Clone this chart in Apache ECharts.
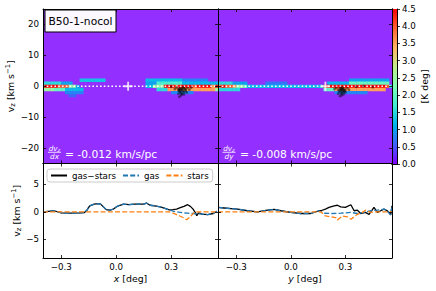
<!DOCTYPE html>
<html><head><meta charset="utf-8">
<script src="https://cdn.jsdelivr.net/npm/echarts@6/dist/echarts.min.js"></script>
<style>html,body{margin:0;padding:0;background:#fff}#c{width:436px;height:291px}</style>
</head><body><div id="c"></div>
<script>
// ================= DATA =================
const xTicks = [-0.3, 0.0, 0.3];
const vTicksTop = [-20, -10, 0, 10, 20];
const vTicksBottom = [-5, 0, 5];
const cbarTicks = [0, 0.5, 1.0, 1.5, 2.0, 2.5, 3.0, 3.5, 4.0, 4.5];
const xRange = [-0.4, 0.556];
const vRangeTop = [-25, 25];
const vRangeBottom = [-8.4, 8.8];
const cbarRange = [0, 4.5];

// position-velocity map bins (deg, km/s)
const binX = [-0.39,-0.37,-0.35,-0.33,-0.31,-0.29,-0.27,-0.25,-0.23,-0.21,-0.19,-0.17,-0.15,-0.13,-0.11,-0.09,
              -0.07,-0.05,-0.03,-0.01,0.01,0.03,0.05,0.07,0.09,0.11,0.13,0.15,0.17,0.19,0.21,0.23,
              0.25,0.27,0.29,0.31,0.33,0.35,0.37,0.39,0.41,0.43,0.45,0.47,0.49,0.51,0.53,0.55];
const binV = [2, 1, 0, -1, -2, -3];
const binDX = 0.02, binDV = 1.0;

// brightness temperature [K deg], rows follow binV, columns follow binX
const pvLeft = [
  [0,0,0,0,0,0,0,0, 0,0,1.3,1.3,1.3,1.3,1.3,1.3, 1.3,0,0,0,0,0,0,0, 0,0,0,0,1.2,1.2,1.2,1.2, 1.2,1.2,1.2,1.2,1.2,1.2,0.8,0.8, 0.8,0.8,0.8,0.8,0.8,0,0,0],
  [1.5,1.5,1.5,1.5,1.5,1,1,1, 0,0,0,0,0,0,0,0, 0,0,0,0,0,0,0,0, 0,0,0,0,1,1,1,1.8, 1.8,1.8,1.8,1.8,1.8,1.8,1.2,1.2, 1.2,1.2,1.2,1.2,1.2,1.2,1.2,1.2],
  [4.5,4.5,4.5,4.5,4,4,4,2.5, 2.5,1,0,0,0,0,0,0, 0,0,0,0,0,0,0,0, 0,0,0,0,1.2,1.2,2.5,2.5, 2.5,4.5,4.5,4.5,4,4.5,4.5,4.5, 4.5,4,4.5,4.5,4.5,4.5,3.5,4.5],
  [2.5,2.5,2.5,2,2,2,1.2,1.2, 1.2,1.2,1.2,0,0,0,0,0, 0,0,0,0,0,0,0,0, 0,0,0,0,0,0,0,1.5, 1.5,1.5,3.5,3.5,3.5,3.5,3.5,3.5, 3.5,3.5,3.5,3.5,3.5,3.5,3.5,2.5],
  [0,0,0,0,0,0,0.8,0.8, 0.8,0.8,0.8,0,0,0,0,0, 0,0,0,0,0,0,0,0, 0,0,0,0,0,0,0,0, 0,0,0,0.8,0.8,0.8,0.8,0.8, 0.8,0,0,0,0,0,0,0],
  [0,0,0,0,0,0,0,0.6, 0.6,0,0,0,0,0,0,0, 0,0,0,0,0,0,0,0, 0,0,0,0,0,0,0,0, 0,0,0,0,0,0,0,0, 0,0,0,0,0,0,0,0]
];
const pvRight = [
  [0,0,0,0,0,0,0,0, 0,0,0,0,0,0,0,0, 0,0,0,0,0,0,0,0, 0,0,0,0,0,0,0,0, 0,0,0,0,1,1,1,1, 1,1,1,1,1,1,1,0],
  [1.5,1.5,1.5,1.5,1,1,1,1, 0,0,0,0,0,0.7,0.7,0.7, 0.7,0.7,0.7,0,0,0,0,0, 0,0,0,0,0,0,1.2,1.2, 1.2,1.2,1.2,1.2,2,2,2,2, 2,2,2,2,2,2,2,0],
  [4,4.5,4,4,3.5,2.5,2.5,2, 1.2,1.2,1.2,1.2,1.2,1.2,1.2,1.2, 1.2,1.2,1.2,1.2,1.2,1.2,1.2,1.2, 1.2,1.2,1.2,1.2,1.5,4.5,4.5,4.5, 4.5,4.5,4.5,4.5,4.5,4.5,4.5,4.5, 4.5,4.5,4.5,4.5,4.5,4.5,4,1.5],
  [1.5,1.5,1.5,1.5,1.5,1.5,0,0, 0,0,0,0,0,0,0,0, 0,0,0,0,0,0,0,0, 0,0,0,0,0,2,2,2, 3.5,3.5,3.5,3.5,3.5,3.5,3.5,3.5, 3.5,3.5,3.5,3.5,3.5,3.5,0,0],
  [0,0,0,0,0,0,0,0, 0,0,0,0,0,0,0,0, 0,0,0,0,0,0,0,0, 0,0,0,0,0,0,0,0, 0.8,0.8,0.8,0.8,0.8,0.8,0.8,0.8, 0.8,0,0,0,0,0,0,0],
  [0,0,0,0,0,0,0,0, 0,0,0,0,0,0,0,0, 0,0,0,0,0,0,0,0, 0,0,0,0,0,0,0,0, 0,0,0,0,0,0,0,0, 0,0,0,0,0,0,0,0]
];

// star particles [deg, km/s]
const starPtsLeft = [[0.33,-0.4],[0.34,-1.0],[0.345,-1.6],[0.35,-0.6],[0.355,-2.2],[0.36,-1.2],[0.365,-0.3],[0.37,-1.8],
  [0.375,-0.9],[0.355,-2.9],[0.345,-3.4],[0.38,-1.4],[0.39,-0.5],[0.36,-0.8],[0.35,-1.3],[0.34,-2.4],[0.37,-2.6],
  [0.385,-2.0],[0.32,-0.9],[0.40,-1.1],[0.30,-0.2],[0.41,-0.4],[0.355,-1.0],[0.365,-1.5],[0.35,-1.9],[0.36,-2.5],
  [0.345,-0.9],[0.37,-0.6],[0.34,-1.3],[0.38,-1.0]];
const starPtsRight = [[0.25,-0.5],[0.26,-1.1],[0.265,-1.7],[0.27,-0.7],[0.275,-2.3],[0.28,-1.2],[0.285,-0.4],[0.29,-1.9],
  [0.295,-0.9],[0.28,-2.9],[0.27,-3.2],[0.30,-1.4],[0.31,-0.6],[0.285,-0.9],[0.275,-1.4],[0.26,-2.4],[0.29,-2.6],
  [0.30,-2.0],[0.24,-0.9],[0.32,-1.1],[0.36,-0.2],[0.40,0.1],[0.45,-0.3],[0.28,-0.8],[0.27,-1.3],[0.29,-1.2],
  [0.285,-1.6],[0.275,-0.5],[0.295,-1.5],[0.28,-2.2]];

// centre markers and mean-velocity lines
const centreLeft = [[0.065, 0]];
const centreRight = [[0.19, 0]];
const meanLineLeft = [[-0.4, 0], [0.556, 0]];
const meanLineRight = [[-0.4, 0], [0.556, 0]];

// gradient annotations
const gradTextLeft = '= -0.012 km/s/pc';
const gradTextRight = '= -0.008 km/s/pc';
const runLabel = 'B50-1-nocol';

// lower panels: mean v_z profiles [deg, km/s]
const gasMinusStarsLeft = [[-0.40,0],[-0.37,0.1],[-0.34,0.2],[-0.30,-0.2],[-0.25,-0.25],[-0.20,-0.2],[-0.175,-0.15],[-0.16,0.3],
  [-0.145,1.1],[-0.12,1.4],[-0.10,1.5],[-0.085,1.4],[-0.07,0.9],[-0.055,0.4],[-0.035,0.3],[-0.015,0.5],[0.00,0.9],[0.02,1.2],
  [0.04,1.4],[0.07,1.3],[0.10,1.4],[0.13,1.4],[0.15,1.4],[0.165,1.6],[0.185,1.2],[0.21,1.1],[0.24,0.9],[0.27,0.6],[0.29,0.35],
  [0.31,0.4],[0.33,0.5],[0.35,0.75],[0.37,1.0],[0.39,1.3],[0.405,1.0],[0.42,0.5],[0.435,-0.3],[0.44,-0.7],[0.45,-0.2],
  [0.47,-0.4],[0.50,-0.5],[0.53,-0.3],[0.55,0.1]];
const gasLeft = [[-0.40,0],[-0.37,0.1],[-0.34,0.2],[-0.30,-0.2],[-0.25,-0.25],[-0.20,-0.2],[-0.175,-0.15],[-0.16,0.3],
  [-0.145,1.1],[-0.12,1.4],[-0.10,1.5],[-0.085,1.4],[-0.07,0.9],[-0.055,0.4],[-0.035,0.3],[-0.015,0.5],[0.00,0.9],[0.02,1.2],
  [0.04,1.4],[0.07,1.3],[0.10,1.4],[0.13,1.4],[0.15,1.4],[0.165,1.6],[0.185,1.2],[0.21,1.1],[0.24,0.9],[0.27,0.6],[0.29,0.35],
  [0.31,0.15],[0.33,0],[0.35,-0.1],[0.37,-0.2],[0.39,-0.25],[0.405,-0.3],[0.42,-0.3],[0.435,-0.35],[0.44,-0.35],[0.45,-0.35],
  [0.47,-0.4],[0.50,-0.5],[0.53,-0.3],[0.55,0.1]];
const starsLeft = [[-0.40,0],[0.29,0],[0.31,-0.25],[0.33,-0.5],[0.35,-0.8],[0.37,-1.1],[0.385,-1.45],[0.40,-1.0],
  [0.415,-0.5],[0.43,0],[0.556,0]];

const gasRight = [[-0.40,0.8],[-0.366,0.7],[-0.33,0.6],[-0.293,0.5],[-0.238,0.2],[-0.183,0],[-0.128,0.3],[-0.091,0.45],
  [-0.055,0.2],[0.0,-0.1],[0.055,-0.3],[0.11,-0.3],[0.155,0.2],[0.183,-0.25],[0.22,-0.3],[0.274,-0.25],[0.329,-0.1],
  [0.366,-0.3],[0.402,-0.1],[0.439,0.2],[0.476,0.3],[0.512,0.5],[0.53,0.2],[0.549,-0.55],[0.556,1.1]];
const gasMinusStarsRight = [[-0.40,0.8],[-0.366,0.7],[-0.33,0.6],[-0.293,0.5],[-0.238,0.2],[-0.183,0],[-0.128,0.3],[-0.091,0.45],
  [-0.055,0.2],[0.0,-0.1],[0.055,-0.3],[0.11,-0.3],[0.155,0.2],[0.165,0.2],[0.19,0.5],[0.21,0.8],[0.238,1.1],[0.256,1.2],
  [0.274,0.9],[0.30,0.8],[0.33,1.3],[0.348,0.2],[0.366,0.3],[0.384,-0.3],[0.41,-0.1],[0.43,-0.45],[0.457,0.8],[0.476,-0.1],
  [0.494,0.2],[0.512,0.5],[0.53,0.2],[0.549,-0.55],[0.556,1.1]];
const starsRight = [[-0.40,0],[0.165,0],[0.19,-0.75],[0.22,-0.9],[0.247,-1.05],[0.256,-1.5],[0.283,-0.75],[0.31,-0.9],
  [0.33,-1.35],[0.366,-0.45],[0.393,-0.1],[0.41,0.3],[0.44,-0.1],[0.457,0],[0.556,0]];

const seriesNames = ['gas\u2212stars', 'gas', 'stars'];

// ================= STYLE =================
const FONT = '"DejaVu Sans", sans-serif';
const FS = 8.7, FS_BIG = 10.7, FS_NAME = 9.4;
const BG = '#9430ff';
const CMAP = ['#8000ff','#4062fa','#00b4ec','#40ecd4','#80ffb4','#c0ec8e','#ffb462','#ff6232','#ff0000'];
const C_BLUE = '#1f77b4', C_ORANGE = '#ff7f0e';

function fmt(v, d) { return (v < 0 ? '\u2212' : '') + Math.abs(v).toFixed(d); }

function pvCells(rows) {
  const out = [];
  rows.forEach((row, r) => row.forEach((val, c) => { if (val > 0) out.push([binX[c], binV[r], val]); }));
  return out;
}

function vAxis(o) {
  return {
    type: 'value', gridIndex: o.g, position: o.pos, min: o.range[0], max: o.range[1], z: 10,
    axisLine: { show: true, onZero: false, lineStyle: { color: '#000', width: 1 } },
    axisTick: { show: true, inside: o.inside !== false, length: 3, customValues: o.ticks, lineStyle: { color: '#000', width: 0.8 } },
    axisLabel: { show: !!o.labels, customValues: o.ticks, margin: o.margin || 4, fontSize: FS, fontFamily: FONT, color: '#000',
                 formatter: v => fmt(v, o.d || 0) },
    splitLine: { show: false },
    name: o.name || '', nameLocation: 'middle', nameGap: o.nameGap || 0, nameRotate: o.nameRotate,
    nameTextStyle: { fontSize: FS_NAME, fontFamily: FONT, color: '#000', lineHeight: 12, rich: {
      i: { fontStyle: 'italic', fontSize: FS_NAME, fontFamily: FONT, color: '#000' },
      s: { fontSize: 6.8, fontFamily: FONT, color: '#000', verticalAlign: 'bottom', lineHeight: 7 },
      p: { fontSize: 6.8, fontFamily: FONT, color: '#000', verticalAlign: 'top', lineHeight: 7 }
    } }
  };
}

const vName = 'v{s|z} [km s{p|\u22121}]';
const grids = [
  { left: 43, top: 9, width: 175, height: 154.5 },
  { left: 218, top: 9, width: 174, height: 154.5 },
  { left: 43, top: 163.5, width: 175, height: 94.5 },
  { left: 218, top: 163.5, width: 174, height: 94.5 },
  { left: 392, top: 9, width: 5, height: 155 }
];
grids.forEach((g, i) => { if (i < 2) { g.show = true; g.backgroundColor = BG; g.borderWidth = 0; } });

const xAxes = [], yAxes = [];
for (let g = 0; g < 4; g++) {
  const bottomRow = g >= 2;
  xAxes.push(vAxis({ g, pos: 'bottom', range: xRange, ticks: xTicks, labels: bottomRow, d: 1,
    name: bottomRow ? (g === 2 ? '{i|x} [deg]' : '{i|y} [deg]') : '', nameGap: 14 }));
  xAxes.push(vAxis({ g, pos: 'top', range: xRange, ticks: xTicks }));
  const vr = bottomRow ? vRangeBottom : vRangeTop;
  const vt = bottomRow ? vTicksBottom : vTicksTop;
  const leftCol = (g % 2) === 0;
  yAxes.push(vAxis({ g, pos: 'left', range: vr, ticks: vt, labels: leftCol, d: 0,
    name: leftCol ? vName : '', nameRotate: 90, nameGap: bottomRow ? 18 : 25 }));
  yAxes.push(vAxis({ g, pos: 'right', range: vr, ticks: vt }));
}
// colourbar axes
xAxes.push({ type: 'category', gridIndex: 4, data: ['cb'], position: 'bottom', z: 10,
  axisLine: { show: true, lineStyle: { color: '#000', width: 1 } }, axisTick: { show: false }, axisLabel: { show: false } });
xAxes.push({ type: 'category', gridIndex: 4, data: ['cb'], position: 'top', z: 10,
  axisLine: { show: true, lineStyle: { color: '#000', width: 1 } }, axisTick: { show: false }, axisLabel: { show: false } });
yAxes.push({ type: 'value', gridIndex: 4, position: 'right', min: cbarRange[0], max: cbarRange[1], z: 10,
  axisLine: { show: true, lineStyle: { color: '#000', width: 1 } },
  axisTick: { show: true, inside: false, length: 3, customValues: cbarTicks, lineStyle: { color: '#000', width: 0.8 } },
  axisLabel: { show: true, customValues: cbarTicks, margin: 5, fontSize: FS, fontFamily: FONT, color: '#000', formatter: v => v.toFixed(1) },
  splitLine: { show: false },
  name: '[K deg]', nameLocation: 'middle', nameRotate: 90, nameGap: 22,
  nameTextStyle: { fontSize: FS_NAME, fontFamily: FONT, color: '#000' } });
yAxes.push({ type: 'value', gridIndex: 4, position: 'left', min: cbarRange[0], max: cbarRange[1], z: 10,
  axisLine: { show: true, lineStyle: { color: '#000', width: 1 } }, axisTick: { show: false }, axisLabel: { show: false }, splitLine: { show: false } });

function pvSeries(rows, ax) {
  return {
    type: 'custom', xAxisIndex: ax, yAxisIndex: ax, data: pvCells(rows), clip: true, z: 2,
    encode: { x: 0, y: 1 },
    renderItem: (params, api) => {
      const x = api.value(0), v = api.value(1);
      const p1 = api.coord([x - binDX / 2, v + binDV / 2]);
      const p2 = api.coord([x + binDX / 2, v - binDV / 2]);
      return { type: 'rect', shape: { x: p1[0], y: p1[1], width: p2[0] - p1[0] + 0.3, height: p2[1] - p1[1] + 0.3 },
               style: { fill: api.visual('color') } };
    }
  };
}
const plusPath = 'path://M4,0h2v4h4v2h-4v4h-2v-4h-4v-2h4z';
function meanLine(d, ax) {
  return { type: 'line', xAxisIndex: ax, yAxisIndex: ax, data: d, symbol: 'none', z: 3,
           lineStyle: { color: '#fff', width: 1.6, type: [1.6, 2.2] } };
}
function starPts(d, ax) {
  return { type: 'scatter', xAxisIndex: ax, yAxisIndex: ax, data: d, symbolSize: 2.8, z: 4,
           itemStyle: { color: 'rgba(0,0,0,0.6)' } };
}
function centre(d, ax) {
  return { type: 'scatter', xAxisIndex: ax, yAxisIndex: ax, data: d, symbol: plusPath, symbolSize: 9, z: 5,
           itemStyle: { color: '#fff' } };
}
function prof(name, d, ax, color, dashed, z) {
  return { type: 'line', name, xAxisIndex: ax, yAxisIndex: ax, data: d, symbol: 'none', z,
           lineStyle: { color, width: 1.3, type: dashed ? [5, 2.2] : 'solid' }, itemStyle: { color } };
}

const series = [
  pvSeries(pvLeft, 0), pvSeries(pvRight, 2),
  meanLine(meanLineLeft, 0), meanLine(meanLineRight, 2),
  starPts(starPtsLeft, 0), starPts(starPtsRight, 2),
  centre(centreLeft, 0), centre(centreRight, 2),
  prof(seriesNames[0], gasMinusStarsLeft, 4, '#000', false, 3),
  prof(seriesNames[1], gasLeft, 4, C_BLUE, true, 4),
  prof(seriesNames[2], starsLeft, 4, C_ORANGE, true, 5),
  prof(seriesNames[0], gasMinusStarsRight, 6, '#000', false, 3),
  prof(seriesNames[1], gasRight, 6, C_BLUE, true, 4),
  prof(seriesNames[2], starsRight, 6, C_ORANGE, true, 5),
  { type: 'bar', xAxisIndex: 8, yAxisIndex: 8, data: [cbarRange[1]], barWidth: '100%', z: 2,
    itemStyle: { color: new echarts.graphic.LinearGradient(0, 1, 0, 0,
      CMAP.map((c, i) => ({ offset: i / (CMAP.length - 1), color: c }))) } }
];

function fraction(cx, num, den, textLeft, text) {
  return [
    { type: 'text', x: cx, y: 148.5, z: 100, style: { text: '{a|d' + num + '}{b|z}', fill: '#fff', align: 'center', verticalAlign: 'middle',
      rich: { a: { fontSize: 7.2, fontStyle: 'italic', fontFamily: FONT, fill: '#fff', color: '#fff' },
              b: { fontSize: 5.2, fontStyle: 'italic', fontFamily: FONT, fill: '#fff', color: '#fff', verticalAlign: 'bottom', lineHeight: 6 } } } },
    { type: 'line', z: 100, shape: { x1: cx - 6.5, y1: 152.3, x2: cx + 6.5, y2: 152.3 }, style: { stroke: '#fff', lineWidth: 0.8 } },
    { type: 'text', x: cx, y: 156.8, z: 100, style: { text: den, fill: '#fff', align: 'center', verticalAlign: 'middle',
      font: 'italic 7.2px ' + FONT } },
    { type: 'text', x: textLeft, y: 154.5, z: 100, style: { text, fill: '#fff', align: 'left', verticalAlign: 'middle',
      font: FS_BIG + 'px ' + FONT } }
  ];
}

const option = {
  animation: false,
  textStyle: { fontFamily: FONT },
  grid: grids,
  xAxis: xAxes,
  yAxis: yAxes,
  visualMap: { type: 'continuous', show: false, min: cbarRange[0], max: cbarRange[1], dimension: 2, seriesIndex: [0, 1],
               inRange: { color: CMAP } },
  legend: {
    data: seriesNames, left: 47, top: 169, orient: 'horizontal',
    itemWidth: 16, itemHeight: 8, itemGap: 6, padding: [2, 4, 2, 3],
    itemStyle: { color: 'rgba(0,0,0,0)', borderColor: 'rgba(0,0,0,0)', borderWidth: 0, opacity: 0 },
    backgroundColor: 'rgba(255,255,255,0.9)', borderColor: '#cccccc', borderWidth: 1, borderRadius: 3,
    textStyle: { fontSize: FS, fontFamily: FONT, color: '#000' }
  },
  series,
  graphic: [
    { type: 'rect', z: 100, shape: { x: 45, y: 10, width: 71, height: 22 }, style: { fill: '#fbf8ff', stroke: '#000', lineWidth: 1 } },
    { type: 'text', z: 101, x: 80.5, y: 21.2, style: { text: runLabel, fill: '#000', align: 'center', verticalAlign: 'middle',
      font: FS_BIG + 'px ' + FONT } },
    ...fraction(54.5, 'v', 'dx', 65, gradTextLeft),
    ...fraction(229, 'v', 'dy', 240, gradTextRight)
  ]
};

const chart = echarts.init(document.getElementById('c'), null, { renderer: 'svg' });
chart.setOption(option);
</script>
</body></html>
